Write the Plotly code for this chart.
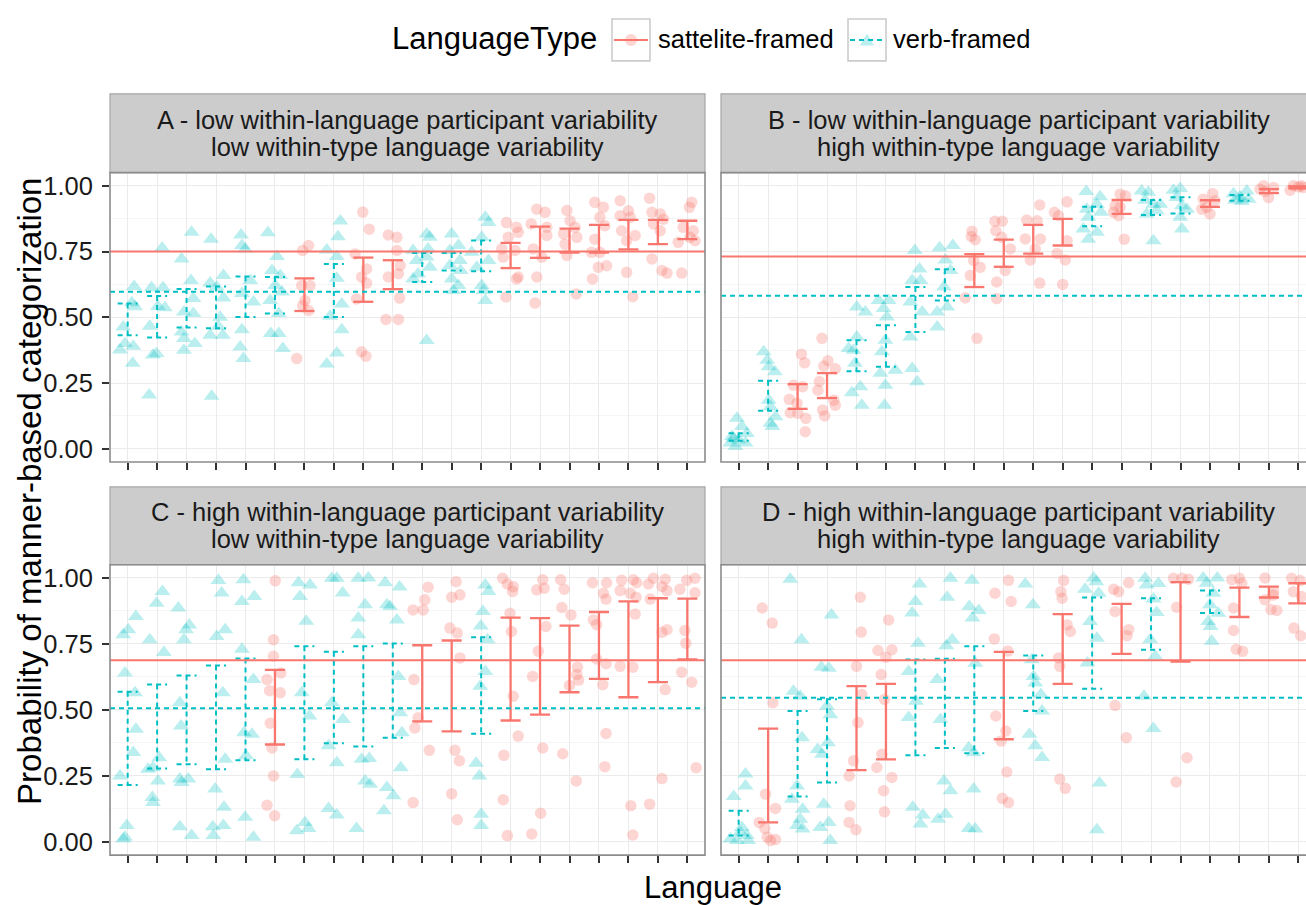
import plotly.graph_objects as go

W, H = 1306, 905
RED = "#F8766D"
CYAN = "#00BFC4"
RED_FILL = "rgba(248,118,109,0.3)"
CYAN_FILL = "rgba(0,191,196,0.27)"
FONT = "Liberation Sans, Arial, sans-serif"

languages = list(range(1, 21))
y_ticks = [0.0, 0.25, 0.5, 0.75, 1.0]
y_tick_labels = ["0.00", "0.25", "0.50", "0.75", "1.00"]
type_names = {"S": "sattelite-framed", "V": "verb-framed"}

# ---------------- Panel A ----------------
title_a = ["A - low within-language participant variability", "low within-type language variability"]
type_a = ["V", "V", "V", "V", "V", "V", "S", "V", "S", "S",
          "V", "V", "V", "S", "S", "S", "S", "S", "S", "S"]
ci_lo_a = [.432, .423, .461, .458, .501, .514, .524, .501, .559, .607,
           .634, .678, .675, .687, .726, .746, .746, .758, .778, .797]
ci_hi_a = [.552, .581, .608, .617, .655, .653, .648, .703, .727, .717,
           .744, .744, .792, .783, .845, .837, .851, .870, .870, .867]
mean_a = {"S": 0.750, "V": 0.597}
pts_a = [
    [[.22, .617], [.14, .555], [.25, .54], [-.15, .463], [-.09, .40], [.19, .39], [-.26, .376], [.17, .325]],
    [[.17, .763], [-.19, .612], [.2, .612], [.03, .541], [.26, .536], [-.25, .466], [-.02, .362], [-.14, .357], [-.27, .205]],
    [[.17, .823], [-.17, .722], [.15, .64], [.23, .571], [-.09, .52], [.23, .514], [-.17, .444], [-.09, .419], [-.09, .375], [.28, .40]],
    [[-.17, .797], [.25, .659], [-.2, .63], [.02, .615], [.25, .573], [.14, .5], [-.2, .432], [.23, .432], [.08, .465], [-.15, .2]],
    [[-.15, .813], [-.12, .773], [-.01, .76], [.16, .64], [-.12, .59], [.27, .558], [-.12, .453], [-.18, .387], [-.07, .343]],
    [[-.24, .821], [.07, .731], [-.1, .678], [.18, .659], [.01, .621], [.24, .596], [-.16, .564], [.13, .514], [-.14, .438], [.13, .438], [.27, .381]],
    [[.14, .773], [-.06, .754], [-.09, .621], [.19, .621], [.02, .564], [-.06, .545], [.14, .526], [-.26, .343]],
    [[.22, .866], [.14, .806], [-.24, .756], [.1, .731], [.1, .648], [.27, .551], [-.13, .504], [.27, .453], [.1, .364], [-.24, .322]],
    [[-.02, .9], [.2, .835], [-.28, .741], [.11, .684], [-.06, .653], [-.23, .57], [.11, .63], [-.06, .369], [.09, .352]],
    [[-.15, .813], [.14, .804], [.14, .754], [.25, .697], [-.15, .653], [.19, .666], [.23, .573], [-.23, .492], [.19, .492]],
    [[.15, .817], [.26, .804], [.2, .76], [-.31, .754], [.15, .729], [-.19, .716], [.26, .69], [-.14, .665], [-.31, .646], [.15, .412]],
    [[0, .817], [.23, .773], [-.06, .754], [.28, .716], [-.06, .697], [.3, .678], [0, .646], [.23, .621], [.06, .602]],
    [[.14, .88], [.25, .86], [.02, .804], [-.32, .747], [.25, .716], [-.15, .69], [.02, .621], [.08, .602], [.14, .564]],
    [[-.14, .86], [.2, .842], [.26, .823], [-.08, .804], [-.3, .76], [.15, .754], [-.25, .729], [.26, .653], [.2, .646], [-.16, .577]],
    [[-.11, .911], [.17, .899], [-.3, .855], [.23, .842], [.23, .811], [-.23, .76], [.06, .729], [-.11, .653], [-.17, .554]],
    [[-.09, .906], [.02, .867], [.19, .842], [-.2, .817], [.25, .804], [-.15, .778], [-.09, .735], [.23, .589]],
    [[-.14, .937], [.15, .918], [.03, .88], [.2, .848], [-.14, .797], [.03, .747], [-.25, .747], [.26, .696], [-.02, .69], [-.22, .646]],
    [[-.28, .943], [0, .905], [-.28, .886], [-.23, .829], [.23, .811], [-.06, .791], [.06, .88], [-.06, .671], [.15, .578]],
    [[-.28, .953], [-.2, .899], [.08, .893], [.19, .873], [-.15, .855], [.08, .829], [-.2, .722], [.14, .678], [.31, .668]],
    [[.15, .937], [.07, .918], [-.14, .842], [.2, .829], [.09, .804], [-.31, .785], [.26, .791], [-.19, .668]],
]

# ---------------- Panel B ----------------
title_b = ["B - low within-language participant variability", "high within-type language variability"]
type_b = ["V", "V", "S", "S", "V", "V", "V", "V", "S", "S",
          "S", "S", "V", "S", "V", "V", "S", "V", "S", "S"]
ci_lo_b = [.031, .145, .152, .193, .295, .312, .444, .564, .615, .692,
           .742, .773, .846, .893, .889, .895, .920, .943, .972, .990]
ci_hi_b = [.059, .259, .246, .288, .413, .470, .615, .683, .740, .795,
           .851, .874, .920, .946, .946, .956, .945, .965, .987, .998]
mean_b = {"S": 0.731, "V": 0.582}
pts_b = [
    [[-.06, .116], [.11, .085], [.28, .058], [-.23, .047], [0, .034], [-.28, .022], [.23, .022], [-.11, .009], [-.17, .04]],
    [[-.15, .369], [-.03, .337], [.02, .312], [.23, .293], [.02, .185], [.08, .16], [.25, .122], [.08, .097], [.14, .085]],
    [[.13, .36], [.24, .327], [-.14, .242], [.17, .236], [-.28, .188], [-.02, .173], [-.25, .137], [.01, .135], [.28, .116], [.26, .065]],
    [[-.17, .42], [.03, .335], [-.11, .315], [.28, .304], [-.26, .256], [-.31, .223], [.23, .185], [.28, .166], [-.15, .148], [-.08, .125]],
    [[.01, .539], [.3, .52], [.01, .425], [-.27, .381], [-.05, .325], [.13, .236], [-.16, .213], [.18, .166], [-.1, .375]],
    [[-.25, .564], [.09, .564], [-.08, .533], [.03, .501], [-.02, .413], [-.14, .369], [.32, .299], [-.19, .287], [-.02, .242], [-.05, .166]],
    [[-.02, .754], [.14, .684], [-.11, .64], [.17, .64], [-.17, .558], [.23, .52], [-.17, .425], [-.11, .305], [.06, .255]],
    [[-.18, .764], [.27, .773], [.02, .718], [.19, .678], [-.03, .615], [.08, .539], [-.26, .52], [-.26, .463]],
    [[-.08, .827], [-.1, .807], [.03, .795], [-.02, .716], [.2, .69], [-.14, .659], [-.31, .574], [.09, .42]],
    [[-.3, .865], [-.05, .865], [-.27, .829], [-.07, .804], [.22, .76], [.05, .678], [-.24, .634], [-.24, .571]],
    [[.22, .927], [-.22, .87], [.13, .867], [-.27, .798], [.24, .798], [.07, .76], [-.1, .718], [.22, .63]],
    [[.15, .939], [-.28, .899], [-.14, .886], [.15, .791], [-.19, .743], [.09, .718], [0, .625]],
    [[-.2, .978], [.27, .958], [.16, .93], [-.18, .911], [.3, .899], [-.13, .88], [-.3, .836], [.16, .823], [-.13, .797]],
    [[-.05, .968], [.13, .962], [-.22, .924], [-.05, .918], [-.27, .899], [-.1, .886], [.09, .797]],
    [[-.32, .98], [-.09, .975], [-.2, .945], [.08, .93], [.31, .93], [-.15, .893], [.19, .905], [.08, .791]],
    [[-.24, .983], [-.01, .99], [-.13, .955], [.22, .911], [.05, .924], [-.01, .88], [.05, .836]],
    [[.09, .97], [-.23, .949], [.17, .943], [-.11, .918], [-.28, .911], [0, .893]],
    [[-.2, .97], [.25, .98], [.02, .958], [-.15, .945], [.31, .949], [.08, .94]],
    [[-.18, 1.0], [.16, .993], [-.13, .978], [-.01, .955], [-.3, .987]],
    [[-.17, 1.0], [.11, 1.0], [-.28, .983], [.17, .993], [0, .996]],
]

# ---------------- Panel C ----------------
title_c = ["C - high within-language participant variability", "low within-type language variability"]
type_c = ["V", "V", "V", "V", "V", "S", "V", "V", "V", "V",
          "S", "S", "V", "S", "S", "S", "S", "S", "S", "S"]
ci_lo_c = [.216, .278, .294, .275, .309, .369, .313, .374, .361, .395,
           .457, .419, .410, .460, .482, .567, .618, .548, .605, .691]
ci_hi_c = [.569, .596, .630, .668, .695, .652, .741, .720, .741, .752,
           .745, .763, .775, .850, .848, .819, .871, .911, .923, .922]
mean_c = {"S": 0.688, "V": 0.506}
pts_c = [
    [[.28, .854], [.02, .804], [-.15, .785], [-.09, .64], [.25, .565], [.28, .427], [.19, .339], [-.26, .25], [-.03, .062], [-.09, .018], [-.15, .011]],
    [[.18, .949], [-.02, .904], [-.25, .766], [.23, .718], [.07, .319], [-.14, .281], [-.31, .275], [.03, .231], [-.16, .168], [-.14, .149]],
    [[-.28, .886], [.09, .822], [-.02, .804], [-.09, .766], [-.23, .527], [-.19, .439], [-.23, .238], [.06, .238], [-.17, .225], [-.23, .057], [.17, .024]],
    [[.08, .99], [.19, .943], [.31, .804], [.02, .778], [.23, .565], [.31, .313], [-.03, .2], [.27, .131], [-.11, .057], [-.09, .024], [.25, .062]],
    [[-.07, .993], [-.12, .911], [.3, .93], [-.12, .73], [.27, .615], [-.05, .414], [.22, .408], [.02, .326], [-.01, .093], [.27, .018]],
    [[.01, .989], [-.05, .766], [-.05, .703], [-.27, .615], [.2, .64], [-.18, .573], [.18, .565], [-.16, .45], [-.1, .356], [-.05, .25], [-.27, .139], [-.01, .099]],
    [[-.2, .982], [.19, .973], [-.15, .93], [.06, .836], [-.09, .565], [.17, .477], [-.24, .255], [.02, .074], [-.26, .042], [.14, .051]],
    [[-.07, .999], [.1, .999], [.3, .943], [-.07, .527], [.31, .464], [.1, .3], [-.18, .364], [-.18, .127], [.1, .102]],
    [[-.17, .999], [.17, 1.0], [.06, .898], [-.17, .848], [-.17, .785], [-.06, .313], [.2, .316], [.06, .231], [.23, .218], [-.23, .051]],
    [[-.26, .982], [.23, .966], [-.2, .898], [-.09, .892], [.14, .841], [.19, .627], [.25, .489], [.31, .414], [.27, .281], [-.2, .206], [.02, .175], [-.3, .118]],
    [[.2, .965], [.09, .917], [.03, .879], [-.31, .879], [-.28, .615], [-.14, .47], [-.25, .432], [.24, .347], [-.31, .149]],
    [[.15, .986], [0, .927], [.28, .936], [-.06, .81], [.19, .791], [.28, .697], [.11, .347], [.26, .307], [0, .182], [.19, .084]],
    [[.14, .973], [.25, .949], [.06, .873], [-.01, .818], [.22, .766], [.14, .646], [-.03, .59], [-.17, .298], [-.06, .25], [0, .105], [0, .062]],
    [[-.27, .999], [-.11, .977], [.09, .967], [.07, .949], [-.02, .866], [.03, .797], [.09, .552], [.26, .401], [-.23, .328], [-.25, .16], [-.11, .024]],
    [[.09, .993], [-.11, .955], [.14, .961], [.2, .816], [-.06, .722], [-.25, .627], [.09, .356], [.02, .109], [-.28, .03]],
    [[-.3, .993], [-.18, .957], [-.26, .888], [.05, .86], [.27, .662], [.25, .634], [.31, .613], [0, .593], [-.23, .334], [.23, .231]],
    [[-.22, .982], [.26, .982], [.15, .942], [.24, .92], [-.19, .841], [-.08, .823], [-.08, .693], [.24, .675], [.13, .596], [.24, .411], [.2, .285]],
    [[-.23, .991], [.17, .993], [.28, .982], [-.28, .952], [.06, .942], [.26, .927], [.23, .863], [-.28, .665], [.15, .662], [.08, .137], [.15, .026]],
    [[-.15, .999], [.25, .995], [-.32, .977], [.14, .968], [.31, .952], [-.26, .92], [.31, .804], [.14, .794], [.25, .577], [.14, .24], [-.28, .143]],
    [[.26, .999], [-.02, .991], [-.25, .957], [.26, .944], [-.08, .801], [-.05, .753], [-.19, .643], [.15, .605], [.3, .281]],
]

# ---------------- Panel D ----------------
title_d = ["D - high within-language participant variability", "high within-type language variability"]
type_d = ["V", "S", "V", "V", "S", "S", "V", "V", "V", "S",
          "V", "S", "V", "S", "V", "S", "V", "S", "S", "S"]
ci_lo_d = [.024, .074, .172, .225, .272, .313, .328, .356, .336, .389,
           .496, .599, .580, .712, .728, .683, .867, .852, .926, .904]
ci_hi_d = [.118, .429, .496, .540, .590, .599, .691, .694, .741, .720,
           .706, .863, .926, .902, .923, .984, .952, .963, .967, .980]
mean_d = {"S": 0.688, "V": 0.546}
pts_d = [
    [[.23, .257], [.23, .212], [-.17, .172], [.11, .055], [-.28, .011], [-.06, .005], [.28, .024], [.06, .037], [.32, .005]],
    [[-.2, .886], [.14, .829], [.16, .527], [-.09, .181], [.25, .127], [-.3, .074], [-.11, .051], [-.03, .018], [.25, .009], [.08, .005]],
    [[-.25, .995], [.13, .766], [-.14, .571], [.09, .552], [.15, .395], [-.02, .212], [-.19, .162], [.17, .124], [.09, .086], [-.02, .062], [.17, .049]],
    [[.15, .86], [-.19, .662], [.06, .658], [0, .514], [.11, .482], [-.32, .35], [.03, .376], [-.17, .332], [-.11, .143], [.06, .074], [-.23, .055], [.11, .005]],
    [[.13, .927], [.16, .795], [0, .665], [.18, .558], [.05, .452], [-.1, .307], [-.25, .25], [-.22, .137], [-.25, .074], [-.02, .046]],
    [[.09, .841], [-.27, .725], [.2, .728], [0, .7], [-.16, .634], [-.05, .54], [-.14, .332], [-.31, .282], [.2, .244], [-.08, .194], [-.05, .114]],
    [[.14, .977], [0, .911], [-.11, .867], [.09, .753], [-.23, .646], [.02, .533], [-.23, .471], [-.09, .131], [.25, .102], [.17, .068]],
    [[.19, .999], [.08, .927], [.25, .766], [.05, .743], [-.26, .615], [-.15, .464], [-.03, .231], [.19, .194], [.02, .105], [-.23, .086]],
    [[-.08, .991], [-.17, .892], [.15, .877], [-.06, .848], [.03, .677], [-.19, .357], [-.02, .338], [-.02, .2], [-.19, .051], [.03, .049]],
    [[.16, .991], [-.3, .942], [.25, .911], [-.32, .769], [.14, .723], [-.27, .477], [.07, .42], [-.09, .382], [.1, .265], [-.05, .165], [.16, .149]],
    [[-.27, .977], [-.01, .898], [-.05, .69], [.01, .627], [.07, .602], [.26, .558], [.3, .496], [-.13, .408], [.07, .364], [.3, .32]],
    [[.03, .99], [-.06, .948], [-.02, .923], [.15, .822], [.26, .797], [-.14, .697], [-.1, .665], [-.1, .238], [.09, .203]],
    [[.05, 1.0], [.14, .986], [-.24, .957], [.22, .942], [-.07, .835], [.16, .772], [-.16, .678], [.25, .223], [.16, .046]],
    [[.24, .982], [-.27, .957], [-.1, .948], [-.22, .873], [.24, .804], [.18, .781], [-.22, .517], [.16, .395]],
    [[-.2, .999], [-.15, .973], [.25, .979], [.08, .92], [.19, .869], [-.03, .766], [.14, .703], [-.24, .552], [.08, .43]],
    [[-.24, .999], [.05, .999], [.27, .995], [-.13, .889], [.22, .319], [-.15, .227]],
    [[-.23, 1.0], [.25, 1.0], [-.11, .98], [.11, .942], [0, .898], [.28, .866], [-.06, .835], [.02, .816], [.06, .76]],
    [[-.26, .993], [0, .999], [.08, .98], [-.2, .886], [-.2, .801], [-.11, .73], [.11, .722]],
    [[-.13, 1.0], [.16, .948], [-.13, .917], [.27, .877], [.07, .88], [.14, .935]],
    [[-.23, .999], [.06, .99], [-.17, .948], [.11, .93], [-.15, .81], [.08, .781]],
]


def fx(px):
    return px / W


def fy(py):
    return 1 - py / H


# panel geometry in pixels: (left, right, top, bottom) plus the x range end
panels = [
    dict(title=title_a, types=type_a, lo=ci_lo_a, hi=ci_hi_a, means=mean_a, pts=pts_a,
         box=(110, 705, 172, 462), xr=20.6, strip=(93, 172), left=True),
    dict(title=title_b, types=type_b, lo=ci_lo_b, hi=ci_hi_b, means=mean_b, pts=pts_b,
         box=(721, 1306, 172, 462), xr=20.26, strip=(93, 172), left=False),
    dict(title=title_c, types=type_c, lo=ci_lo_c, hi=ci_hi_c, means=mean_c, pts=pts_c,
         box=(110, 705, 565, 856), xr=20.6, strip=(487, 565), left=True),
    dict(title=title_d, types=type_d, lo=ci_lo_d, hi=ci_hi_d, means=mean_d, pts=pts_d,
         box=(721, 1306, 565, 856), xr=20.26, strip=(487, 565), left=False),
]

style = {
    "S": dict(fill=RED_FILL, line=RED, symbol="circle", size=11.5, dash="solid", width=2.3),
    "V": dict(fill=CYAN_FILL, line=CYAN, symbol="triangle-up", size=14, dash="5px,4px", width=2),
}
CAP = 0.34

fig = go.Figure()
shapes = []
annotations = []
layout_axes = {}

for k, p in enumerate(panels):
    n = "" if k == 0 else str(k + 1)
    xa, ya = "x" + n, "y" + n
    left, right, top, bottom = p["box"]

    # jittered observations
    for code in ("S", "V"):
        st = style[code]
        xs, ys = [], []
        for i, lang in enumerate(languages):
            if p["types"][i] != code:
                continue
            for dx, yv in p["pts"][i]:
                xs.append(lang + dx)
                ys.append(yv)
        fig.add_trace(go.Scatter(
            x=xs, y=ys, mode="markers", xaxis=xa, yaxis=ya,
            marker=dict(symbol=st["symbol"], size=st["size"], color=st["fill"], line=dict(width=0)),
            showlegend=False, hoverinfo="skip", name=type_names[code]))

    # confidence-interval error bars per language
    for code in ("S", "V"):
        st = style[code]
        ex, ey = [], []
        for i, lang in enumerate(languages):
            if p["types"][i] != code:
                continue
            lo, hi = p["lo"][i], p["hi"][i]
            ex += [lang - CAP, lang + CAP, None, lang, lang, None, lang - CAP, lang + CAP, None]
            ey += [hi, hi, None, hi, lo, None, lo, lo, None]
        fig.add_trace(go.Scatter(
            x=ex, y=ey, mode="lines", xaxis=xa, yaxis=ya,
            line=dict(color=st["line"], width=st["width"], dash=st["dash"]),
            showlegend=False, hoverinfo="skip", name=type_names[code]))

    # language-type means
    for code in ("S", "V"):
        st = style[code]
        shapes.append(dict(type="line", xref=xa + " domain", yref=ya, x0=0, x1=1,
                           y0=p["means"][code], y1=p["means"][code],
                           line=dict(color=st["line"], width=2, dash=st["dash"]), layer="above"))

    layout_axes["xaxis" + n] = dict(
        domain=[fx(left), fx(right)], range=[0.4, p["xr"]], anchor=ya,
        tickvals=languages, showticklabels=False, ticks="outside", ticklen=7, tickwidth=2,
        tickcolor="#333333", showgrid=True, gridcolor="#EBEBEB", gridwidth=1.4,
        zeroline=False, showline=False, fixedrange=True)
    layout_axes["yaxis" + n] = dict(
        domain=[fy(bottom), fy(top)], range=[-0.05, 1.05], anchor=xa,
        tickvals=y_ticks, ticktext=y_tick_labels, showticklabels=p["left"],
        ticks="outside" if p["left"] else "", ticklen=7, tickwidth=2, tickcolor="#333333",
        ticklabelstandoff=4,
        tickfont=dict(family=FONT, size=25.5, color="#1A1A1A"),
        showgrid=True, gridcolor="#EBEBEB", gridwidth=1.4,
        minor=dict(tick0=0.125, dtick=0.25, showgrid=True, gridcolor="#F5F5F5", gridwidth=1, ticks=""),
        zeroline=False, showline=False, fixedrange=True)

    # panel border (right-hand panels run past the page edge)
    full_right = right if right < W else 1316
    shapes.append(dict(type="rect", xref="paper", yref="paper",
                       x0=fx(left), x1=fx(full_right), y0=fy(bottom), y1=fy(top),
                       line=dict(color="#8C8C8C", width=1.6), fillcolor="rgba(0,0,0,0)", layer="above"))
    # facet strip
    s_top, s_bot = p["strip"]
    shapes.append(dict(type="rect", xref="paper", yref="paper",
                       x0=fx(left), x1=fx(full_right), y0=fy(s_bot), y1=fy(s_top),
                       line=dict(color="#A6A6A6", width=1.2), fillcolor="#CCCCCC", layer="below"))
    cx = (left + full_right) / 2
    mid = (s_top + s_bot) / 2
    for j, line in enumerate(p["title"]):
        annotations.append(dict(x=fx(cx), y=fy(mid - 13.5 + 27 * j), xref="paper", yref="paper",
                                text=line, showarrow=False, xanchor="center", yanchor="middle",
                                font=dict(family=FONT, size=25.5, color="#1A1A1A")))

# axis titles
annotations.append(dict(x=fx(713), y=fy(888), xref="paper", yref="paper", text="Language",
                        showarrow=False, xanchor="center", yanchor="middle",
                        font=dict(family=FONT, size=31, color="#000000")))
annotations.append(dict(x=fx(30), y=fy(492), xref="paper", yref="paper",
                        text="Probability of manner-based categorization", textangle=-90,
                        showarrow=False, xanchor="center", yanchor="middle",
                        font=dict(family=FONT, size=33, color="#000000")))

# legend drawn as keys with a line and a point
annotations.append(dict(x=fx(390), y=fy(38), xref="paper", yref="paper", text="LanguageType",
                        showarrow=False, xanchor="left", yanchor="middle",
                        font=dict(family=FONT, size=31, color="#000000")))
legend_keys = [("S", 612, 656), ("V", 848, 891)]
for code, kx, tx in legend_keys:
    st = style[code]
    shapes.append(dict(type="rect", xref="paper", yref="paper", x0=fx(kx), x1=fx(kx + 38),
                       y0=fy(60), y1=fy(18), line=dict(color="#CCCCCC", width=1.6), fillcolor="white"))
    cxk = kx + 19
    if code == "S":
        shapes.append(dict(type="circle", xref="paper", yref="paper", x0=fx(cxk - 6), x1=fx(cxk + 6),
                           y0=fy(45), y1=fy(33), line=dict(width=0), fillcolor=st["fill"]))
    else:
        path = "M {} {} L {} {} L {} {} Z".format(fx(cxk - 7), fy(44.5), fx(cxk + 7), fy(44.5), fx(cxk), fy(32.5))
        shapes.append(dict(type="path", xref="paper", yref="paper", path=path,
                           line=dict(width=0), fillcolor=st["fill"]))
    shapes.append(dict(type="line", xref="paper", yref="paper", x0=fx(kx + 2), x1=fx(kx + 36),
                       y0=fy(39), y1=fy(39), line=dict(color=st["line"], width=2, dash=st["dash"])))
    annotations.append(dict(x=fx(tx), y=fy(38), xref="paper", yref="paper", text=type_names[code],
                            showarrow=False, xanchor="left", yanchor="middle",
                            font=dict(family=FONT, size=25.5, color="#000000")))

fig.update_layout(
    width=W, height=H, margin=dict(l=0, r=0, t=0, b=0),
    paper_bgcolor="white", plot_bgcolor="white", showlegend=False,
    shapes=shapes, annotations=annotations, **layout_axes)

fig.write_html("out.html", config={"displayModeBar": False})
